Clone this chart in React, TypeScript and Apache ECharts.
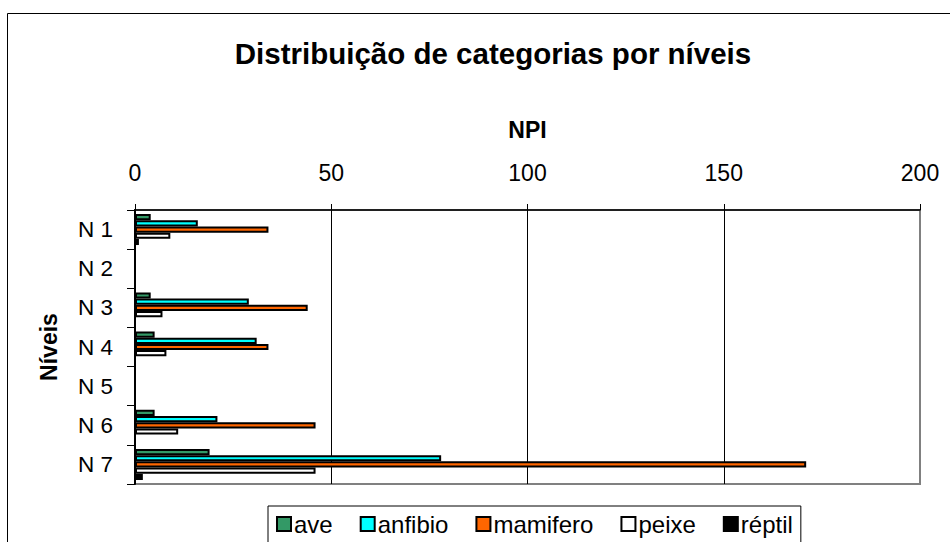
import React, { useEffect, useRef } from "react";
import * as echarts from "echarts";

const categories = ["N 1", "N 2", "N 3", "N 4", "N 5", "N 6", "N 7"];
const seriesNames = ["ave", "anfibio", "mamifero", "peixe", "réptil"];
const ave = [4, 0, 4, 5, 0, 5, 19];
const anfibio = [16, 0, 29, 31, 0, 21, 78];
const mamifero = [34, 0, 44, 34, 0, 46, 171];
const peixe = [9, 0, 7, 8, 0, 11, 46];
const reptil = [1, 0, 0, 0, 0, 0, 2];
const xTicks = [0, 50, 100, 150, 200];
const seriesColors = ["#339966", "#00FFFF", "#FF6600", "#FFFFFF", "#000000"];

const FONT = "'Liberation Sans', Arial, sans-serif";

export default function App() {
  const ref = useRef<HTMLDivElement>(null);
  useEffect(() => {
    if (!ref.current) return;
    const chart = echarts.init(ref.current, undefined, { renderer: "svg" });
    const values = [ave, anfibio, mamifero, peixe, reptil];
    chart.setOption({
      animation: false,
      backgroundColor: "#ffffff",
      textStyle: { fontFamily: FONT, color: "#000" },
      title: {
        text: "Distribuição de categorias por níveis",
        left: 488,
        textAlign: "center",
        top: 33,
        textStyle: { fontFamily: FONT, fontSize: 29.5, fontWeight: "bold", color: "#000" },
      },
      graphic: [
        {
          type: "rect",
          shape: { x: 7.5, y: 13.5, width: 1000, height: 600 },
          style: { fill: "none", stroke: "#000", lineWidth: 1 },
          silent: true,
          z: -10,
        },
      ],
      legend: {
        left: 268,
        top: 506,
        orient: "horizontal",
        icon: "rect",
        itemWidth: 14,
        itemHeight: 14,
        itemGap: 27,
        padding: [6, 8, 14, 8],
        borderColor: "#000",
        borderWidth: 1,
        textStyle: { fontFamily: FONT, fontSize: 24, color: "#000", padding: [0, 0, 0, -2] },
        itemStyle: { borderColor: "#000", borderWidth: 2 },
        data: seriesNames,
      },
      grid: {
        left: 135,
        top: 210,
        right: 30,
        bottom: 58,
        show: true,
        borderColor: "#808080",
        borderWidth: 2,
        backgroundColor: "transparent",
      },
      xAxis: {
        type: "value",
        position: "top",
        min: xTicks[0],
        max: xTicks[xTicks.length - 1],
        interval: 50,
        name: "NPI",
        nameLocation: "middle",
        nameGap: 69,
        nameTextStyle: { fontFamily: FONT, fontSize: 23, fontWeight: "bold", color: "#000" },
        axisLine: { show: true, lineStyle: { color: "#000", width: 1.5 } },
        axisTick: { show: true, length: 6, lineStyle: { color: "#000", width: 1 } },
        axisLabel: { margin: 26, fontFamily: FONT, fontSize: 23, color: "#000" },
        splitLine: {
          show: true,
          lineStyle: { color: ["#000", "#000", "#000", "#000", "#808080"], width: 1 },
        },
      },
      yAxis: {
        type: "category",
        inverse: true,
        data: categories,
        name: "Níveis",
        nameLocation: "middle",
        nameGap: 75,
        nameRotate: 90,
        nameTextStyle: { fontFamily: FONT, fontSize: 23, fontWeight: "bold", color: "#000" },
        axisLine: { show: true, lineStyle: { color: "#000", width: 2 } },
        axisTick: { show: true, length: 8, lineStyle: { color: "#000", width: 1 } },
        axisLabel: { margin: 22, fontFamily: FONT, fontSize: 22.5, color: "#000" },
        splitLine: { show: false },
      },
      series: seriesNames.map((name, i) => ({
        name,
        type: "bar",
        barGap: "0%",
        barCategoryGap: "21%",
        data: values[i].map((v) => (v === 0 ? "-" : v)),
        itemStyle: { color: seriesColors[i], borderColor: "#000", borderWidth: 2 },
      })),
    });
    return () => chart.dispose();
  }, []);
  return (
    <div
      ref={ref}
      style={{ position: "fixed", left: 0, top: 0, width: 950, height: 542 }}
    />
  );
}
